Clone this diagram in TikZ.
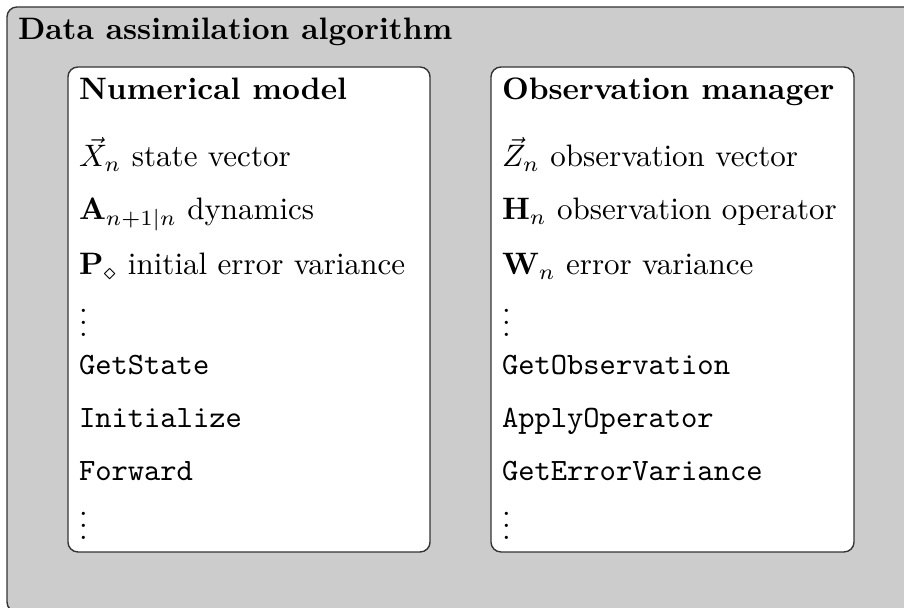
\documentclass[tikz,border=0pt]{standalone}
\usepackage{amsmath}
\begin{document}
\begin{tikzpicture}[x=0.3223pt,y=-0.3223pt,
  outerbox/.style={draw=black!80,line width=0.45pt,fill=black!20,rounded corners=3.2pt},
  innerbox/.style={draw=black!80,line width=0.45pt,fill=white,rounded corners=3.2pt,minimum height=156.3pt,inner sep=0pt},
  row/.style={anchor=base west,inner sep=0pt,outer sep=0pt}]
\useasboundingbox (0,0) rectangle (904,608);
\clip (0,0) rectangle (904,608);
\path[outerbox] (7,7) rectangle (915,612);
\node[row] (title) at (18,40) {\bfseries Data assimilation algorithm};
% left box
\node[innerbox,minimum width=116.7pt] (model) at (249,309.5) {};
\node[row] (mt) at (79,100) {\bfseries Numerical model};
\node[row] (m1) at (79,167) {$\vec{X}_n$ state vector};
\node[row] (m2) at (79,220) {$\mathbf{A}_{n+1|n}$ dynamics};
\node[row] (m3) at (79,275) {$\mathbf{P}_\diamond$ initial error variance};
\node[row] (m4) at (79,337) {$\vdots$};
\node[row] (m5) at (79,375) {\texttt{GetState}};
\node[row] (m6) at (79,428) {\texttt{Initialize}};
\node[row] (m7) at (79,481) {\texttt{Forward}};
\node[row] (m8) at (79,540) {$\vdots$};
% right box
\node[innerbox,minimum width=117.0pt] (obs) at (672.5,309.5) {};
\node[row] (ot) at (502,100) {\bfseries Observation manager};
\node[row] (o1) at (502,167) {$\vec{Z}_n$ observation vector};
\node[row] (o2) at (502,220) {$\mathbf{H}_n$ observation operator};
\node[row] (o3) at (502,275) {$\mathbf{W}_n$ error variance};
\node[row] (o4) at (502,337) {$\vdots$};
\node[row] (o5) at (502,375) {\texttt{GetObservation}};
\node[row] (o6) at (502,428) {\texttt{ApplyOperator}};
\node[row] (o7) at (502,481) {\texttt{GetErrorVariance}};
\node[row] (o8) at (502,540) {$\vdots$};
\end{tikzpicture}
\end{document}
